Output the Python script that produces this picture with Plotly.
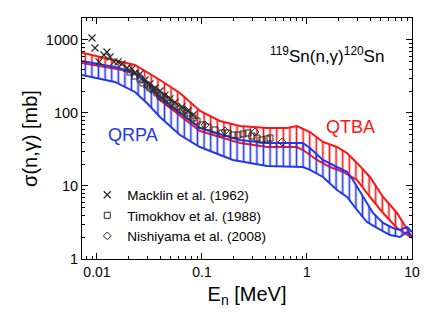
import plotly.graph_objects as go
import math

# QTBA band (red)
qtba_hi_E = [0.0072, 0.0112, 0.0173, 0.0230, 0.0299, 0.0398, 0.0617, 0.0957, 0.148, 0.230, 0.416, 0.645, 0.80, 0.957, 1.07, 1.42, 1.93, 2.40, 2.99, 3.98, 5.30, 7.20, 9.16, 10.0]
qtba_hi_s = [670, 585, 500, 455, 364, 283, 188, 106.5, 77.7, 66.4, 62.3, 62.3, 66.4, 58.5, 54.9, 40.1, 34.2, 28.3, 20.7, 13.3, 7.07, 4.27, 2.50, 2.00]
qtba_lo_E = [0.0072, 0.0173, 0.0230, 0.0299, 0.0398, 0.0617, 0.0957, 0.230, 0.416, 0.80, 0.916, 1.245, 1.656, 2.203, 2.993, 3.981, 5.298, 7.197, 8.964, 10.0]
qtba_lo_s = [484, 388, 342, 258, 151, 93.9, 56.7, 38.8, 34.2, 34.2, 31.1, 22.7, 18.2, 15.6, 12.1, 7.07, 4.27, 2.66, 2.13, 1.94]

# QRPA band (blue)
qrpa_hi_E = [0.0072, 0.0148, 0.0220, 0.0299, 0.0398, 0.0617, 0.0957, 0.230, 0.416, 0.80, 0.916, 1.068, 1.420, 1.931, 2.404, 2.741, 3.414, 4.252, 5.298, 6.593, 7.688, 8.964, 10.0]
qrpa_hi_s = [516, 427, 364, 266, 166, 100, 62.3, 42.7, 38.8, 38.8, 38.8, 33.2, 22.7, 18.2, 15.6, 12.1, 7.07, 4.27, 3.11, 2.66, 2.50, 2.74, 2.34]
qrpa_lo_E = [0.0072, 0.0148, 0.0230, 0.0299, 0.0398, 0.0617, 0.0957, 0.197, 0.416, 0.80, 0.916, 1.068, 1.420, 1.931, 2.404, 2.993, 3.727, 4.642, 6.172, 7.688, 8.964, 10.0]
qrpa_lo_s = [332, 266, 194, 137, 88.2, 49.9, 34.2, 22.7, 18.8, 18.2, 18.2, 16.6, 13.3, 8.82, 7.07, 4.69, 3.21, 2.66, 2.13, 2.00, 2.34, 2.00]

# Experimental data
macklin_E = [0.00896, 0.00957, 0.01045, 0.01166, 0.01245, 0.0133, 0.01452, 0.01585, 0.0173, 0.01931, 0.02155, 0.02301, 0.02568, 0.02865, 0.03196, 0.03566, 0.03981, 0.04443, 0.04958, 0.05532, 0.06449, 0.07356, 0.08211]
macklin_s = [1065, 777, 500, 623, 685, 585, 500, 500, 469, 413, 401, 353, 342, 283, 250, 220, 200, 176, 156, 141, 121, 106.5, 93.9]
timokhov_E = [0.02062, 0.02301, 0.02568, 0.02743, 0.02993, 0.03196, 0.03414, 0.03727, 0.03981, 0.04252, 0.04642, 0.04958, 0.05295, 0.0578, 0.06173, 0.06593, 0.07197, 0.07688, 0.08211, 0.08964, 0.1, 0.1141, 0.1331, 0.1549, 0.1768, 0.1972, 0.2203, 0.2457, 0.2743, 0.2993, 0.334, 0.3727, 0.416, 0.4443]
timokhov_s = [364, 321, 292, 258, 242, 220, 207, 188, 171, 161, 151, 137, 129, 121, 113, 106.5, 100, 91, 85.4, 77.7, 68.5, 64.3, 58.5, 53.2, 53.2, 49.9, 49.9, 51.6, 53.2, 48.4, 45.4, 42.7, 44.0, 45.4]
nishiyama_E = [0.0306, 0.04443, 0.0689, 0.1069, 0.1656, 0.3198, 0.578]
nishiyama_s = [234, 166, 110, 68.5, 56.7, 54.9, 40.1]

x_ticks = [0.01, 0.1, 1, 10]
x_ticklabels = ["0.01", "0.1", "1", "10"]
y_ticks = [1, 10, 100, 1000]
y_ticklabels = ["1", "10", "100", "1000"]

RED = "rgb(255,20,20)"
BLUE = "rgb(35,55,240)"
FONT = "Liberation Sans, Arial, sans-serif"

fig = go.Figure()

def band(hiE, hiS, loE, loS, color):
    fig.add_trace(go.Scatter(x=hiE, y=hiS, mode="lines", line=dict(color=color, width=2),
                             showlegend=False, hoverinfo="skip"))
    fig.add_trace(go.Scatter(x=loE, y=loS, mode="lines", line=dict(color=color, width=2),
                             fill="tonexty", fillcolor="rgba(0,0,0,0)",
                             fillpattern=dict(shape="|", fgcolor=color, bgcolor="rgba(0,0,0,0)",
                                              fgopacity=1, size=6.6, solidity=0.25, fillmode="overlay"),
                             showlegend=False, hoverinfo="skip"))

band(qtba_hi_E, qtba_hi_s, qtba_lo_E, qtba_lo_s, RED)
band(qrpa_hi_E, qrpa_hi_s, qrpa_lo_E, qrpa_lo_s, BLUE)

MK = "#2a2a2a"
fig.add_trace(go.Scatter(x=macklin_E, y=macklin_s, mode="markers", name="Macklin et al. (1962)",
                         marker=dict(symbol="x-thin-open", size=7, color=MK, line=dict(color=MK, width=1.2))))
fig.add_trace(go.Scatter(x=timokhov_E, y=timokhov_s, mode="markers", name="Timokhov et al. (1988)",
                         marker=dict(symbol="square-open", size=6, color=MK, line=dict(color=MK, width=1))))
fig.add_trace(go.Scatter(x=nishiyama_E, y=nishiyama_s, mode="markers", name="Nishiyama et al. (2008)",
                         marker=dict(symbol="diamond-open", size=6, color=MK, line=dict(color=MK, width=1))))

x_minor = [m * 10 ** d for d in range(-3, 1) for m in range(2, 10)]
y_minor = [m * 10 ** d for d in range(0, 4) for m in range(2, 10)]

fig.update_xaxes(type="log", range=[math.log10(0.0072), 1.0], automargin=False,
                 tickvals=x_ticks, ticktext=x_ticklabels,
                 ticks="inside", ticklen=6, tickwidth=1, tickcolor="black",
                 showline=True, linecolor="black", linewidth=1, mirror="allticks",
                 showgrid=False, zeroline=False,
                 tickfont=dict(family=FONT, size=14, color="black"),
                 minor=dict(tickvals=x_minor, ticks="inside", ticklen=3, tickcolor="black", showgrid=False),
                 title=dict(text="E<sub>n</sub> [MeV]", font=dict(family=FONT, size=20, color="black"), standoff=10))
fig.update_yaxes(type="log", range=[0, math.log10(2000)], automargin=False,
                 tickvals=y_ticks, ticktext=y_ticklabels,
                 ticks="inside", ticklen=6, tickwidth=1, tickcolor="black",
                 showline=True, linecolor="black", linewidth=1, mirror="allticks",
                 showgrid=False, zeroline=False,
                 tickfont=dict(family=FONT, size=14.5, color="black"),
                 minor=dict(tickvals=y_minor, ticks="inside", ticklen=3, tickcolor="black", showgrid=False),
                 title=dict(text="σ(n,γ) [mb]", font=dict(family=FONT, size=20, color="black"), standoff=2))

fig.add_annotation(x=math.log10(0.0220), y=math.log10(50), text="QRPA", showarrow=False,
                   font=dict(family=FONT, size=18, color=BLUE))
fig.add_annotation(x=math.log10(2.57), y=math.log10(64), text="QTBA", showarrow=False,
                   font=dict(family=FONT, size=18, color=RED))
fig.add_annotation(x=math.log10(1.55), y=math.log10(630), text="<sup>119</sup>Sn(n,γ)<sup>120</sup>Sn",
                   showarrow=False, font=dict(family=FONT, size=17, color="black"))

# page body has an 8px margin, so the figure is slightly smaller than the window
fig.update_layout(
    width=420, height=300,
    margin=dict(l=74, r=16, t=10, b=49),
    paper_bgcolor="white", plot_bgcolor="white",
    font=dict(family=FONT, color="black"),
    legend=dict(x=0.016, y=0.33, xanchor="left", yanchor="top", bgcolor="rgba(0,0,0,0)",
                traceorder="normal",
                font=dict(family=FONT, size=13.5, color="black"), itemwidth=30, tracegroupgap=0),
)

fig.write_html("out.html")
